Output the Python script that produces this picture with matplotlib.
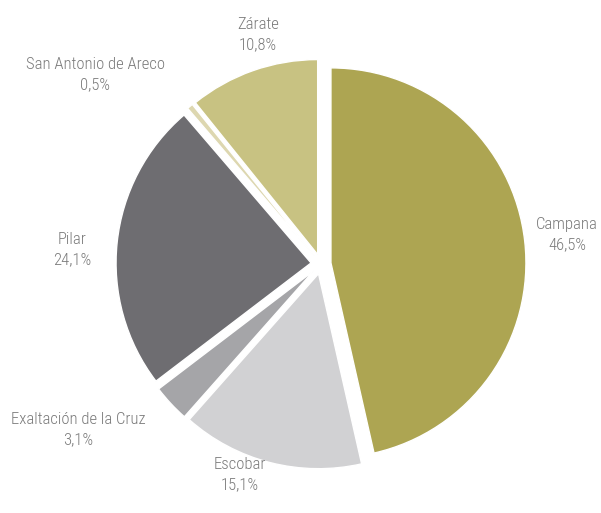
import numpy as np
import matplotlib.pyplot as plt

# participación por partido
partidos = ['Campana', 'Escobar', 'Exaltación de la Cruz', 'Pilar',
            'San Antonio de Areco', 'Zárate']
valores = [46.5, 15.1, 3.1, 24.1, 0.5, 10.8]
etiquetas = ['46,5%', '15,1%', '3,1%', '24,1%', '0,5%', '10,8%']
colores = ['#ADA552', '#D1D1D3', '#A5A5A8', '#6E6D71', '#DDD7B0', '#C8C282']

# posición de las etiquetas (píxeles, origen abajo a la izquierda)
label_pos = [(567, 278), (240, 38), (78, 83), (72, 263), (95, 438), (258, 478)]

plt.rcParams['font.family'] = ['Roboto Condensed', 'DejaVu Sans Condensed',
                               'Liberation Sans Narrow', 'Roboto', 'DejaVu Sans']

fig = plt.figure(figsize=(6.01, 5.13), dpi=100)
ax = fig.add_axes([0, 0, 1, 1])

centro = (321, 249)
radio = 195

# explode va en unidades de datos (píxeles aquí)
ax.pie(valores, colors=colores, startangle=90, counterclock=False,
       center=centro, radius=radio, explode=[10] * len(valores),
       wedgeprops=dict(edgecolor='white', linewidth=1.0), frame=True)
ax.set_xlim(0, 601)
ax.set_ylim(0, 513)
ax.set_aspect('equal')
ax.axis('off')

for nombre, pct, (x, y) in zip(partidos, etiquetas, label_pos):
    ax.text(x, y, nombre + '\n' + pct, ha='center', va='center',
            fontsize=12, color='#7a7a7a', linespacing=1.45,
            fontstretch='condensed', fontweight='light')

fig.savefig('out.png', dpi=100)
